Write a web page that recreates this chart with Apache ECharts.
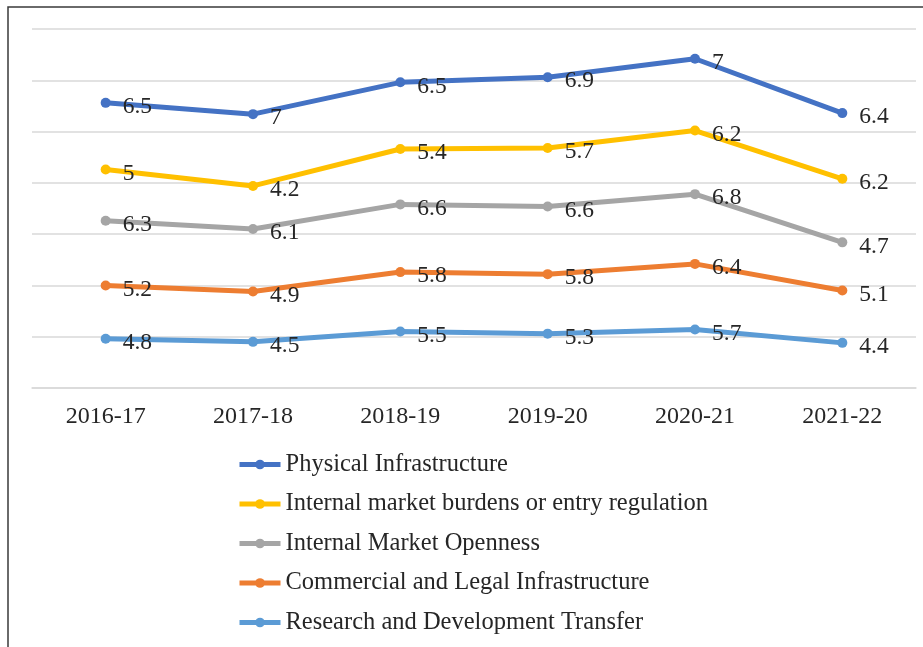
<!DOCTYPE html>
<html><head><meta charset="utf-8">
<script src="https://cdn.jsdelivr.net/npm/echarts@6/dist/echarts.min.js"></script>
<style>html,body{margin:0;padding:0;background:#fff}#c{width:923px;height:647px}</style>
</head><body><div id="c"></div>
<script>
var categories = ['2016-17','2017-18','2018-19','2019-20','2020-21','2021-22'];
var physical = [6.5, 7, 6.5, 6.9, 7, 6.4];
var internalBurdens = [5, 4.2, 5.4, 5.7, 6.2, 6.2];
var openness = [6.3, 6.1, 6.6, 6.6, 6.8, 4.7];
var commercial = [5.2, 4.9, 5.8, 5.8, 6.4, 5.1];
var research = [4.8, 4.5, 5.5, 5.3, 5.7, 4.4];
var names = ['Physical Infrastructure','Internal market burdens or entry regulation','Internal Market Openness','Commercial and Legal Infrastructure','Research and Development Transfer'];

var FONT = '"Liberation Serif","Times New Roman",serif';
function mk(name, data, color){
  return {
    name: name, type: 'line', stack: 'total', data: data,
    symbol: 'circle', symbolSize: 10,
    lineStyle: {width: 5, color: color},
    itemStyle: {color: color},
    label: {show: true, position: 'right', distance: 12, offset: [0, 4],
      fontFamily: FONT, fontSize: 23.5, color: '#262626'},
    emphasis: {disabled: true}
  };
}
var chart = echarts.init(document.getElementById('c'));
chart.setOption({
  animation: false,
  backgroundColor: '#fff',
  grid: {left: 32, right: 7, top: 29, bottom: 259, containLabel: false},
  xAxis: {type: 'category', data: categories, boundaryGap: true,
    axisLine: {lineStyle: {color: '#d9d9d9', width: 1.5}}, axisTick: {show: false},
    axisLabel: {fontFamily: FONT, fontSize: 24, color: '#262626', margin: 17}},
  yAxis: {type: 'value', min: 0, max: 35, interval: 5,
    axisLabel: {show: false}, axisLine: {show: false}, axisTick: {show: false},
    splitLine: {lineStyle: {color: '#d9d9d9', width: 1.5}}},
  legend: {orient: 'vertical', left: 237, top: 452, height: 200, padding: 0,
    itemWidth: 41, itemHeight: 12, itemGap: 14.5,
    data: names,
    lineStyle: {width: 5},
    textStyle: {fontFamily: FONT, fontSize: 24.5, color: '#262626', lineHeight: 24}},
  graphic: [{type: 'rect', shape: {x: 8, y: 7, width: 940, height: 700},
    style: {fill: 'none', stroke: '#3a3a3a', lineWidth: 1.5}, silent: true, z: 100}],
  series: [
    mk(names[4], research, '#5B9BD5'),
    mk(names[3], commercial, '#ED7D31'),
    mk(names[2], openness, '#A5A5A5'),
    mk(names[1], internalBurdens, '#FFC000'),
    mk(names[0], physical, '#4472C4')
  ]
});
</script></body></html>
